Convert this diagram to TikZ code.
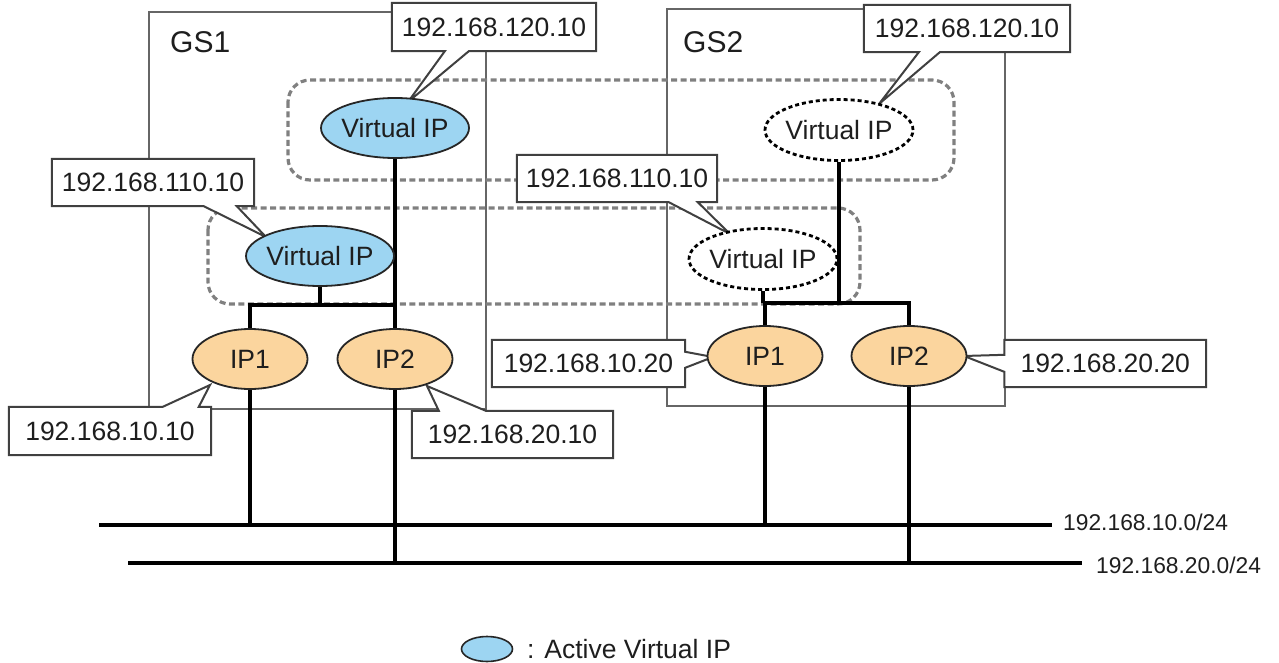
\documentclass[tikz,border=0pt]{standalone}
\usepackage{fontspec}
\setmainfont{Liberation Sans}
\usetikzlibrary{shapes.geometric,calc}
\pgfdeclarelayer{bg}
\pgfdeclarelayer{mid}
\pgfsetlayers{bg,mid,main}
\definecolor{vipblue}{RGB}{157,213,242}
\definecolor{iporange}{RGB}{251,213,158}
\definecolor{txt}{RGB}{30,30,30}
\newcommand\ipfont{\fontsize{26.5}{31}\selectfont}
\newcommand\netfont{\fontsize{22.8}{27}\selectfont}
\newcommand\gsfont{\fontsize{30}{35}\selectfont}
\begin{document}
\begin{tikzpicture}[x=1pt,y=-1pt,
  gsbox/.style={draw=black!60, line width=2pt},
  grp/.style={draw=black!50, line width=3.2pt, dash pattern=on 6pt off 3.5pt, rounded corners=22pt},
  vip/.style={ellipse, draw=black!85, line width=1.8pt, fill=vipblue, minimum width=148pt, minimum height=60pt, inner sep=0pt, font=\ipfont, text=txt},
  stby/.style={ellipse, draw=black, line width=2.8pt, dash pattern=on 4pt off 3pt, fill=white, minimum width=148pt, minimum height=61pt, inner sep=0pt, font=\ipfont, text=txt},
  ipn/.style={ellipse, draw=black!85, line width=1.8pt, fill=iporange, minimum width=115pt, minimum height=60pt, inner sep=0pt, font=\ipfont, text=txt},
  ctext/.style={rectangle, inner sep=0pt, font=\ipfont, text=txt},
  callout/.style={draw=black!75, line width=2pt, fill=white, line join=miter},
  wire/.style={draw=black, line width=3.2pt},
  net/.style={draw=black, line width=4pt},
  gslabel/.style={font=\gsfont, text=txt, inner sep=0pt, anchor=base west},
  netlabel/.style={font=\netfont, text=txt, inner sep=0pt, anchor=west}
]
\useasboundingbox (0,0) rectangle (1279,663);

% ---------- nodes ----------
\node[gslabel] (gs1lab) at (170,53) {GS1};
\node[gslabel] (gs2lab) at (683,53) {GS2};

\node[vip]  (vipA) at (395,128) {\makebox[0pt]{Virtual IP}};
\node[vip]  (vipB) at (320,256) {\makebox[0pt]{Virtual IP}};
\node[stby] (vipC) at (839,130) {\makebox[0pt]{Virtual IP}};
\node[stby] (vipD) at (763,259) {\makebox[0pt]{Virtual IP}};

\node[ipn] (ip1a) at (250,359) {\makebox[0pt]{IP1}};
\node[ipn] (ip2a) at (395,359) {\makebox[0pt]{IP2}};
\node[ipn] (ip1b) at (765,356) {\makebox[0pt]{IP1}};
\node[ipn] (ip2b) at (909,356) {\makebox[0pt]{IP2}};

\node[ctext, minimum width=204pt, minimum height=48pt] (c1) at (494,27) {192.168.120.10};
\node[ctext, minimum width=202pt, minimum height=47pt] (c2) at (153,182.5) {192.168.110.10};
\node[ctext, minimum width=202pt, minimum height=48pt] (c3) at (110,431) {192.168.10.10};
\node[ctext, minimum width=201pt, minimum height=47pt] (c4) at (512.5,434.5) {192.168.20.10};
\node[ctext, minimum width=206pt, minimum height=47pt] (c5) at (967,28.5) {192.168.120.10};
\node[ctext, minimum width=200pt, minimum height=47pt] (c6) at (617,178.5) {192.168.110.10};
\node[ctext, minimum width=193pt, minimum height=47pt] (c7) at (588.5,363.5) {192.168.10.20};
\node[ctext, minimum width=201.5pt, minimum height=47pt] (c8) at (1105.25,363.5) {192.168.20.20};

\coordinate (n10a) at (99,525);
\coordinate (n10b) at (1052,525);
\coordinate (n20a) at (128,563);
\coordinate (n20b) at (1082,563);
\node[netlabel] (l10) at (1063,522) {192.168.10.0/24};
\node[netlabel] (l20) at (1096,565) {192.168.20.0/24};

\coordinate (busA) at (0,305);
\coordinate (busB) at (0,303);

\node[ellipse, draw=black!85, line width=1.6pt, fill=vipblue, minimum width=51pt, minimum height=25pt, inner sep=0pt] (leg) at (487,649) {};
\node[font=\ipfont, text=txt, inner sep=0pt, anchor=west] (legtxt) at (527,649) {: Active Virtual IP};

% ---------- background: boxes, groups, wires ----------
\begin{pgfonlayer}{bg}
  \draw[gsbox] (149,12) rectangle (486,409);
  \draw[gsbox] (667,9) rectangle (1004.5,406);
  \draw[grp] (288,80) rectangle (954,180);
  \draw[grp] (208,208) rectangle (860,304);

  % GS1 internal wiring
  \draw[wire] (vipA.south) -- (ip2a.north);
  \draw[wire] (vipB.south) -- (vipB.south |- busA);
  \draw[wire, line cap=rect] (ip1a.north) -- (ip1a.north |- busA) -- (ip2a.north |- busA);
  % GS2 internal wiring
  \draw[wire] (vipC.south) -- (vipC.south |- busB);
  \draw[wire] (vipD.south) -- (vipD.south |- busB);
  \draw[wire] (ip1b.north) -- (ip1b.north |- busB) -- (ip2b.north |- busB) -- (ip2b.north);

  % drops to networks
  \draw[wire] (ip1a.south) -- (ip1a.south |- n10a);
  \draw[wire] (ip2a.south) -- (ip2a.south |- n20a);
  \draw[wire] (ip1b.south) -- (ip1b.south |- n10a);
  \draw[wire] (ip2b.south) -- (ip2b.south |- n20a);

  % networks
  \draw[net] (n10a) -- (n10b);
  \draw[net] (n20a) -- (n20b);
\end{pgfonlayer}

% ---------- callout outlines ----------
\begin{pgfonlayer}{mid}
  \path[callout] (c1.north west) -- (c1.north east) -- (c1.south east)
     -- ($(c1.south west)+(77,0)$) -- ($(vipA.center)+(13,-26)$)
     -- ($(c1.south west)+(53,0)$) -- (c1.south west) -- cycle;
  \path[callout] (c2.north west) -- (c2.north east) -- (c2.south east)
     -- ($(c2.south west)+(185,0)$) -- ($(vipB.center)+(-54,-19)$)
     -- ($(c2.south west)+(152,0)$) -- (c2.south west) -- cycle;
  \path[callout] (c3.north west) -- ($(c3.north west)+(154,0)$)
     -- ($(ip1a.center)+(-40,26)$) -- ($(c3.north west)+(190,0)$)
     -- (c3.north east) -- (c3.south east) -- (c3.south west) -- cycle;
  \path[callout] (c4.north west) -- ($(c4.north west)+(27,0)$)
     -- ($(ip2a.center)+(32,27)$) -- ($(c4.north west)+(74,0)$)
     -- (c4.north east) -- (c4.south east) -- (c4.south west) -- cycle;
  \path[callout] (c5.north west) -- (c5.north east) -- (c5.south east)
     -- ($(c5.south west)+(76,0)$) -- ($(vipC.center)+(40,-26)$)
     -- ($(c5.south west)+(55,0)$) -- (c5.south west) -- cycle;
  \path[callout] (c6.north west) -- (c6.north east) -- (c6.south east)
     -- ($(c6.south west)+(181,0)$) -- ($(vipD.center)+(-33,-25)$)
     -- ($(c6.south west)+(152,0)$) -- (c6.south west) -- cycle;
  \path[callout] (c7.north west) -- (c7.north east) -- ($(c7.north east)+(0,12)$)
     -- ($(ip1b.center)+(-52,1)$) -- ($(c7.north east)+(0,28)$)
     -- (c7.south east) -- (c7.south west) -- cycle;
  \path[callout] (c8.north west) -- (c8.north east) -- (c8.south east)
     -- (c8.south west) -- ($(c8.north west)+(0,32)$)
     -- ($(ip2b.center)+(55,0)$) -- ($(c8.north west)+(0,15)$) -- cycle;
\end{pgfonlayer}
\end{tikzpicture}
\end{document}
